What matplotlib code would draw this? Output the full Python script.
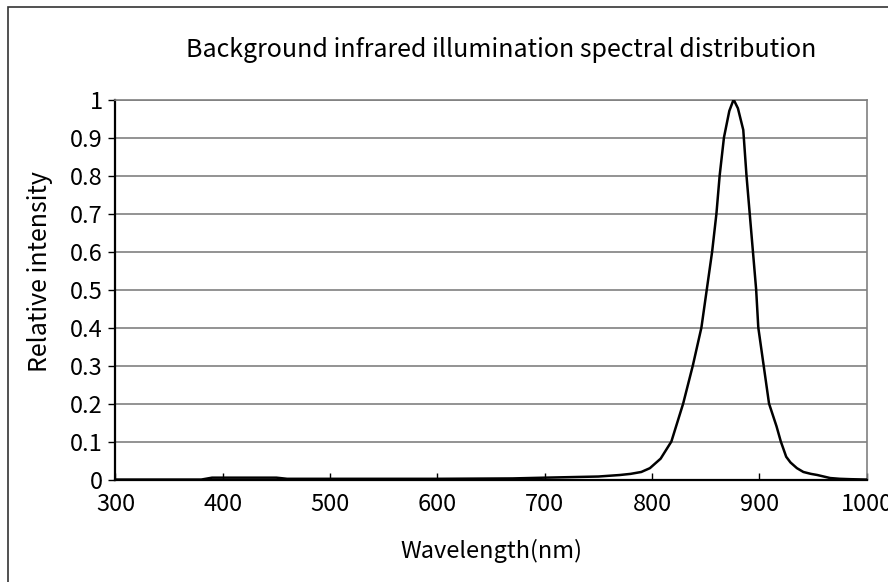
import matplotlib.pyplot as plt
from matplotlib.patches import Rectangle

plt.rcParams['font.family'] = ['Noto Sans CJK JP', 'DejaVu Sans']

# Spectrum
wavelength = [300, 380, 390, 400, 450, 460, 500, 600, 670, 700, 750, 770, 780,
              790, 798, 808, 818, 829, 838, 846, 851, 856, 860, 863, 867, 872,
              876, 880, 885, 888, 891, 894, 897, 899, 904, 909, 916, 920, 925,
              929, 935, 941, 948, 954, 960, 966, 975, 985, 1000]
intensity = [0, 0, 0.005, 0.005, 0.005, 0.002, 0.002, 0.002, 0.003, 0.005,
             0.008, 0.012, 0.015, 0.02, 0.03, 0.055, 0.1, 0.2, 0.3, 0.4, 0.5,
             0.6, 0.7, 0.8, 0.9, 0.97, 1.0, 0.977, 0.92, 0.8, 0.7, 0.6, 0.5,
             0.4, 0.3, 0.2, 0.14, 0.1, 0.06, 0.045, 0.03, 0.02, 0.015, 0.012,
             0.008, 0.004, 0.002, 0.001, 0.0]

x_ticks = [300, 400, 500, 600, 700, 800, 900, 1000]
y_ticks = [0, 0.1, 0.2, 0.3, 0.4, 0.5, 0.6, 0.7, 0.8, 0.9, 1]
y_labels = ['0', '0.1', '0.2', '0.3', '0.4', '0.5', '0.6', '0.7', '0.8', '0.9', '1']

fig = plt.figure(figsize=(8.88, 5.82), dpi=100)
ax = fig.add_axes([0.130, 0.176, 0.846, 0.653])

# outer chart frame (cut off on the right and bottom)
fig.patches.append(Rectangle((8 / 888, -0.05), 1.1, 1 - 7 / 582 + 0.05,
                             transform=fig.transFigure, fill=False,
                             edgecolor='#333333', linewidth=1.2))

ax.plot(wavelength, intensity, color='black', linewidth=1.8, zorder=3)

ax.set_xlim(300, 1000)
ax.set_ylim(0, 1)
ax.set_xticks(x_ticks)
ax.set_yticks(y_ticks)
ax.set_yticklabels(y_labels)
ax.yaxis.grid(True, color='#808080', linewidth=1.2)
ax.set_axisbelow(True)

for side in ['top', 'right']:
    ax.spines[side].set_color('#808080')
    ax.spines[side].set_linewidth(1.2)
for side in ['left', 'bottom']:
    ax.spines[side].set_color('black')
    ax.spines[side].set_linewidth(1.6)

ax.tick_params(axis='x', direction='in', length=5, width=1, labelsize=17, pad=10)
ax.tick_params(axis='y', direction='out', length=5, width=1, labelsize=17, pad=4)
for lab in ax.get_xticklabels() + ax.get_yticklabels():
    lab.set_clip_on(False)

fig.text(501 / 888, 1 - 50 / 582,
         'Background infrared illumination spectral distribution',
         fontsize=18, ha='center', va='center')
fig.text(491 / 888, 1 - 551 / 582, 'Wavelength(nm)', fontsize=17,
         ha='center', va='center')
fig.text(40 / 888, 1 - 272 / 582, 'Relative intensity', fontsize=18,
         rotation=90, ha='center', va='center')

fig.savefig('out.png', dpi=100)
